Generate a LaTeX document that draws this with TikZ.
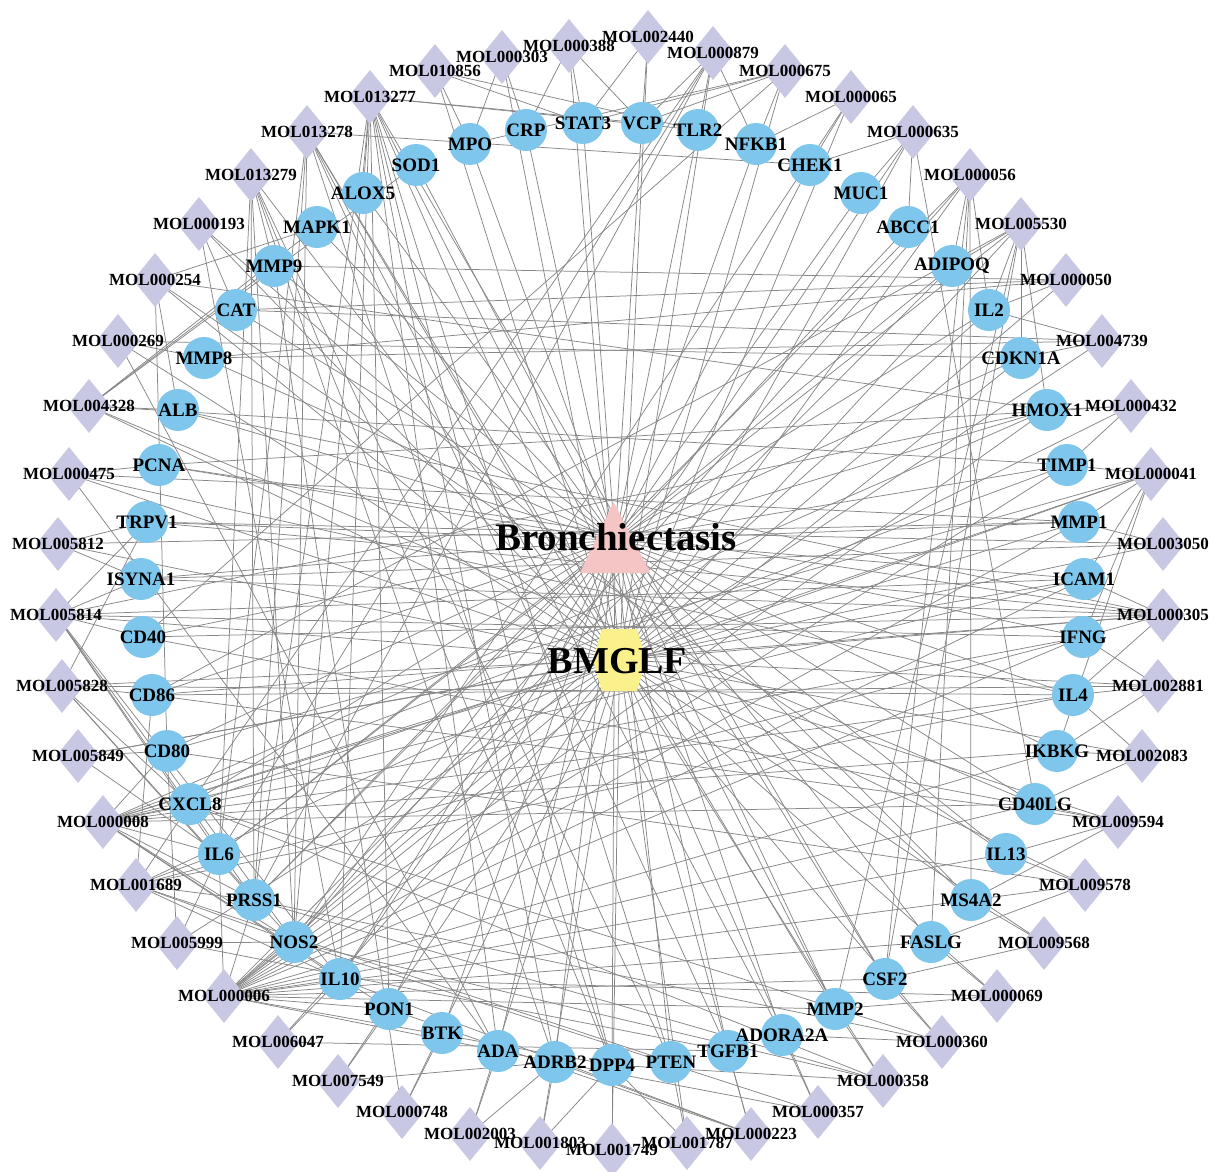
\documentclass[tikz,border=0pt]{standalone}
\usepackage{fontspec}
\setmainfont{Liberation Serif}
\usetikzlibrary{shapes.geometric,backgrounds}
\definecolor{genec}{RGB}{126,198,236}
\definecolor{molc}{RGB}{200,200,228}
\definecolor{tric}{RGB}{245,196,196}
\definecolor{hexc}{RGB}{250,240,140}
\definecolor{edgec}{RGB}{135,135,135}
\tikzset{
  gene/.style={circle, fill=genec, minimum size=42pt, inner sep=0pt},
  mol/.style={diamond, fill=molc, minimum width=44pt, minimum height=54pt, inner sep=0pt},
  glab/.style={font=\bfseries\fontsize{19}{19}\selectfont, inner sep=0pt},
  mlab/.style={font=\bfseries\fontsize{17}{17}\selectfont, inner sep=0pt},
  biglab/.style={anchor=base, inner sep=0pt},
  edge/.style={draw=edgec, line width=0.75pt},
}
\begin{document}
\begin{tikzpicture}[x=1pt,y=-1pt]
\useasboundingbox (0,0) rectangle (1213,1172);
\def\genelist{SOD1/416/165, ALOX5/363/193, MAPK1/317/227, MMP9/274/266, CAT/236/310,
 MMP8/204/358, ALB/178/410, PCNA/159/465, TRPV1/147/522, ISYNA1/141/579, CD40/143/637,
 CD86/152/695, CD80/167/751, CXCL8/190/804, IL6/219/854, PRSS1/254/900, NOS2/294/942,
 IL10/340/979, PON1/389/1009, BTK/442/1033, ADA/498/1051, ADRB2/555/1062, DPP4/612/1065,
 PTEN/671/1062, TGFB1/728/1051, ADORA2A/782/1035, MMP2/835/1009, CSF2/885/979,
 FASLG/931/942, MS4A2/971/900, IL13/1006/854, CD40LG/1035/804, IKBKG/1057/751,
 IL4/1073/695, IFNG/1083/637, ICAM1/1084/579, MMP1/1079/522, TIMP1/1067/465,
 HMOX1/1047/410, CDKN1A/1021/358, IL2/989/310, ADIPOQ/952/266, ABCC1/908/227,
 MUC1/861/193, CHEK1/810/165, NFKB1/756/144, TLR2/698/130, VCP/642/123, STAT3/583/123,
 CRP/526/130, MPO/470/144}
\def\mollist{MOL013277/370/97, MOL010856/435/71, MOL000303/502/57, MOL000388/569/46,
 MOL002440/648/37, MOL000879/713/53, MOL000675/785/71, MOL000065/851/97,
 MOL000635/913/132, MOL000056/970/175, MOL005530/1021/224, MOL000050/1066/280,
 MOL004739/1102/341, MOL000432/1131/406, MOL000041/1151/474, MOL003050/1163/544,
 MOL000305/1163/615, MOL002881/1158/686, MOL002083/1142/756, MOL009594/1118/822,
 MOL009578/1085/885, MOL009568/1044/943, MOL000069/997/996, MOL000360/942/1042,
 MOL000358/883/1081, MOL000357/818/1112, MOL000223/751/1134, MOL001787/687/1143,
 MOL001749/612/1150, MOL001803/540/1143, MOL002003/470/1134, MOL000748/402/1112,
 MOL007549/338/1081, MOL006047/278/1042, MOL000006/224/996, MOL005999/177/943,
 MOL001689/136/885, MOL000008/103/822, MOL005849/78/756, MOL005828/62/686,
 MOL005814/56/615, MOL005812/58/544, MOL000475/69/474, MOL004328/89/406,
 MOL000269/118/341, MOL000254/155/280, MOL000193/199/224, MOL013279/251/175,
 MOL013278/307/132}
% shapes
\foreach \n/\x/\y in \mollist { \node[mol] (\n) at (\x,\y) {}; }
\foreach \n/\x/\y in \genelist { \node[gene] (\n) at (\x,\y) {}; }
\fill[tric] (580,573) -- (613.5,502) -- (650.5,573) -- cycle;
\coordinate (Bron) at (615,540);
\fill[hexc] (602,629) -- (637,629) -- (646,660) -- (637,691) -- (602,691) -- (593,660) -- cycle;
\coordinate (BMGLF) at (619.5,660);
% labels
\foreach \n/\x/\y in \mollist { \node[mlab] (L\n) at (\n) {\n}; }
\foreach \n/\x/\y in \genelist { \node[glab] (L\n) at (\n) {\n}; }
\node[biglab, font=\bfseries\fontsize{39}{39}\selectfont] (BronLab) at (616,550) {Bronchiectasis};
\node[biglab, font=\bfseries\fontsize{38}{38}\selectfont] (BMGLFLab) at (617.5,673) {BMGLF};
% edges
\begin{pgfonlayer}{background}
\fill[white] (0,0) rectangle (1213,1172);
\foreach \n/\x/\y in \genelist { \draw[edge] (\n.center) -- (Bron); }
\foreach \n/\x/\y in \mollist { \draw[edge] (\n.center) -- (BMGLF); }
\foreach \m/\g in {
 MOL013277/PRSS1, MOL013277/NOS2, MOL013277/IL10, MOL013277/PON1, MOL013277/ADA,
 MOL013277/ADRB2, MOL013277/DPP4, MOL013277/VCP, MOL013277/TLR2, MOL013277/ALOX5,
 MOL013277/MMP2, MOL013277/CSF2, MOL013277/PTEN,
 MOL013278/NOS2, MOL013278/PRSS1, MOL013278/MMP2, MOL013278/CHEK1, MOL013278/ADORA2A, MOL013278/IL6,
 MOL013278/DPP4, MOL013278/TGFB1,
 MOL013279/PRSS1, MOL013279/IL6, MOL013279/DPP4, MOL013279/PTEN, MOL013279/MMP9,
 MOL013279/ADRB2, MOL013279/NOS2,
 MOL000193/MS4A2, MOL000193/CAT, MOL000193/IL10,
 MOL000254/MAPK1, MOL000254/CD80, MOL000254/IL13, MOL000254/ALB, MOL000254/HMOX1,
 MOL000269/ADA, MOL000269/MMP8, MOL000269/CDKN1A,
 MOL004328/MMP9, MOL004328/MAPK1, MOL004328/SOD1, MOL004328/CD40LG, MOL004328/ALB, MOL004328/TIMP1,
 MOL000475/PCNA, MOL000475/ADA, MOL000475/IL4, MOL000475/MMP1,
 MOL005812/TRPV1, MOL005812/ISYNA1, MOL005812/MMP1,
 MOL005814/ISYNA1, MOL005814/TRPV1, MOL005814/CD40, MOL005814/PRSS1, MOL005814/NOS2,
 MOL005814/IL10, MOL005814/IL6, MOL005814/HMOX1, MOL005814/IFNG, MOL005814/ICAM1,
 MOL005828/TRPV1, MOL005828/CD86, MOL005828/CXCL8, MOL005828/PRSS1, MOL005828/NOS2, MOL005828/IL4,
 MOL005849/CD80, MOL005849/IL6, MOL005849/ICAM1,
 MOL000008/CD80, MOL000008/CXCL8, MOL000008/IL6, MOL000008/PRSS1, MOL000008/NOS2,
 MOL000008/IL10, MOL000008/PON1, MOL000008/IFNG, MOL000008/IL4, MOL000008/IKBKG,
 MOL000008/ICAM1, MOL000008/MMP1, MOL000008/CD40LG, MOL000008/TIMP1, MOL000008/HMOX1,
 MOL001689/IL6, MOL001689/CXCL8, MOL001689/PRSS1, MOL001689/NOS2, MOL001689/IL10,
 MOL001689/PTEN, MOL001689/CD86, MOL001689/IFNG, MOL001689/IL4,
 MOL005999/IL6, MOL005999/NOS2, MOL005999/CD80, MOL005999/TGFB1,
 MOL000006/IL6, MOL000006/PRSS1, MOL000006/NOS2, MOL000006/IL10, MOL000006/PON1,
 MOL000006/ADRB2, MOL000006/DPP4, MOL000006/MMP2, MOL000006/CSF2, MOL000006/FASLG,
 MOL000006/MS4A2, MOL000006/IL13, MOL000006/CD40LG, MOL000006/IKBKG, MOL000006/IFNG,
 MOL000006/ICAM1, MOL000006/CDKN1A, MOL000006/IL2, MOL000006/TIMP1, MOL000006/MMP1,
 MOL000006/HMOX1, MOL000006/ADIPOQ,
 MOL006047/IL10, MOL006047/TGFB1,
 MOL007549/PON1, MOL007549/ADRB2,
 MOL000748/BTK, MOL000748/MMP9,
 MOL002003/ADA, MOL002003/ADRB2,
 MOL001803/ADRB2, MOL001803/DPP4,
 MOL001749/DPP4,
 MOL001787/PTEN, MOL001787/DPP4,
 MOL000223/TGFB1, MOL000223/ADRB2, MOL000223/IL10, MOL000223/PON1,
 MOL000357/ADORA2A, MOL000357/NOS2, MOL000357/ADRB2,
 MOL000358/MMP2, MOL000358/PRSS1, MOL000358/NOS2, MOL000358/DPP4, MOL000358/CXCL8,
 MOL000360/CSF2, MOL000360/ADORA2A, MOL000360/CXCL8, MOL000360/PRSS1,
 MOL000069/FASLG, MOL000069/MMP2, MOL000069/IL10,
 MOL009568/MS4A2, MOL009568/CSF2,
 MOL009578/IL13, MOL009578/MS4A2, MOL009578/FASLG, MOL009578/CD80,
 MOL009594/CD40LG, MOL009594/MS4A2, MOL009594/IL13, MOL009594/CD86, MOL009594/CD40,
 MOL002083/IKBKG, MOL002083/IL4, MOL002083/CD40LG,
 MOL002881/IL4, MOL002881/IKBKG, MOL002881/IFNG, MOL002881/CD86,
 MOL000305/IFNG, MOL000305/ICAM1, MOL000305/CD40, MOL000305/ISYNA1, MOL000305/CD86,
 MOL000305/IL4, MOL000305/TRPV1, MOL000305/ALB, MOL000305/PCNA,
 MOL003050/MMP1, MOL003050/ISYNA1, MOL003050/TRPV1,
 MOL000041/MMP1, MOL000041/ICAM1, MOL000041/IFNG, MOL000041/IKBKG, MOL000041/TIMP1,
 MOL000041/CXCL8, MOL000041/CD80,
 MOL000432/HMOX1, MOL000432/TIMP1, MOL000432/PCNA,
 MOL004739/CDKN1A, MOL004739/MMP8, MOL004739/IL2, MOL004739/CAT,
 MOL000050/CAT, MOL000050/IL2, MOL000050/MMP9, MOL000050/MMP8,
 MOL005530/IL2, MOL005530/CDKN1A, MOL005530/HMOX1, MOL005530/ADIPOQ, MOL005530/MMP2, MOL005530/CSF2,
 MOL005530/CD86, MOL005530/IL6,
 MOL000056/ADIPOQ, MOL000056/IL2, MOL000056/FASLG, MOL000056/MS4A2, MOL000056/CSF2,
 MOL000056/NOS2, MOL000056/PRSS1,
 MOL000635/CHEK1, MOL000635/MUC1, MOL000635/ABCC1, MOL000635/CD40LG, MOL000635/IL10,
 MOL000065/CHEK1, MOL000065/NFKB1, MOL000065/NOS2,
 MOL000675/STAT3, MOL000675/VCP, MOL000675/NFKB1, MOL000675/MPO, MOL000675/CD40,
 MOL000879/TLR2, MOL000879/VCP, MOL000879/NFKB1, MOL000879/CXCL8, MOL000879/IL6, MOL000879/PRSS1,
 MOL002440/VCP, MOL002440/STAT3,
 MOL000388/STAT3, MOL000388/VCP, MOL000388/CRP,
 MOL000303/MPO, MOL000303/CRP,
 MOL010856/MPO, MOL010856/STAT3, MOL010856/TLR2}
 { \draw[edge] (\m.center) -- (\g.center); }
\end{pgfonlayer}
\end{tikzpicture}
\end{document}
